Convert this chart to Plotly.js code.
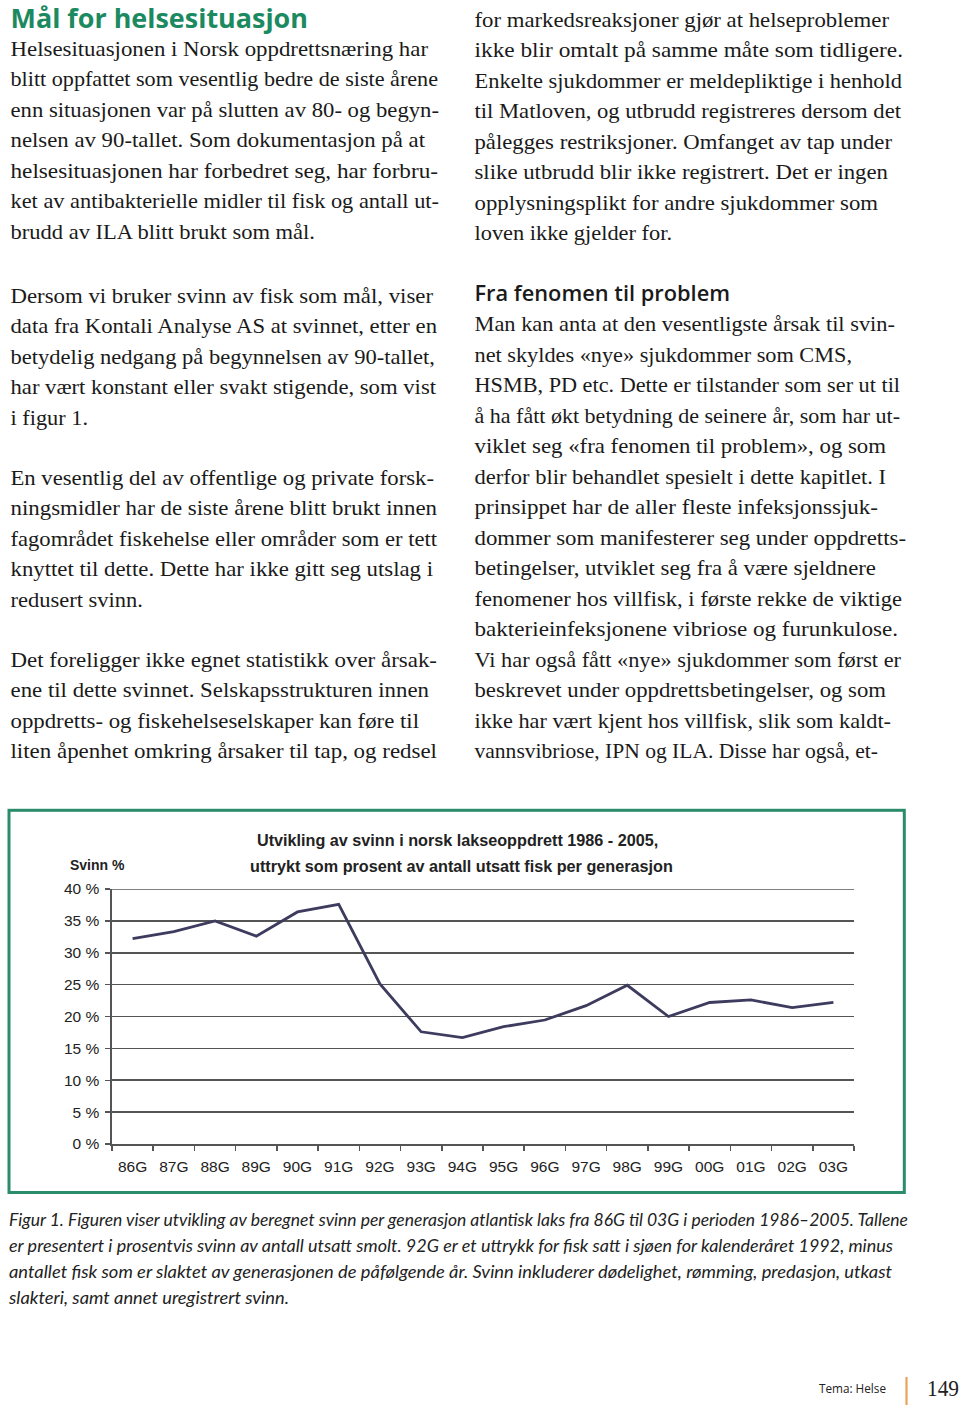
<!DOCTYPE html>
<html>
<head>
<meta charset="utf-8">
<script src="https://cdn.plot.ly/plotly-3.0.1.min.js"></script>
<style>
  html, body { margin:0; padding:0; background:#ffffff; }
  #page { position:relative; width:960px; height:1409px; overflow:hidden; background:#fff; }
  #chart { position:absolute; left:0; top:800px; width:960px; height:410px; }
  #overlay { position:absolute; left:0; top:0; width:960px; height:1409px; pointer-events:none; }
</style>
</head>
<body>
<div id="page">
  <div id="chart"></div>
  <svg id="overlay" width="960" height="1409" xmlns="http://www.w3.org/2000/svg"></svg>
</div>
<script>
// ---------- chart data ----------
const generations = ["86G","87G","88G","89G","90G","91G","92G","93G","94G","95G","96G","97G","98G","99G","00G","01G","02G","03G"];
const svinnPct   = [32.2, 33.3, 35.0, 32.6, 36.4, 37.6, 25.1, 17.6, 16.7, 18.4, 19.45, 21.7, 24.9, 20.0, 22.2, 22.6, 21.4, 22.2];
const yTickVals   = [0, 5, 10, 15, 20, 25, 30, 35, 40];
const yTickLabels = ["0 %", "5 %", "10 %", "15 %", "20 %", "25 %", "30 %", "35 %", "40 %"];
const chartTitle1 = "Utvikling av svinn i norsk lakseoppdrett 1986 - 2005,";
const chartTitle2 = "uttrykt som prosent av antall utsatt fisk per generasjon";
const yAxisLabel  = "Svinn %";

// ---------- page text ----------
const leftLines = [
  "Helsesituasjonen i Norsk oppdrettsnæring har",
  "blitt oppfattet som vesentlig bedre de siste årene",
  "enn situasjonen var på slutten av 80- og begyn-",
  "nelsen av 90-tallet. Som dokumentasjon på at",
  "helsesituasjonen har forbedret seg, har forbru-",
  "ket av antibakterielle midler til fisk og antall ut-",
  "brudd av ILA blitt brukt som mål.",
  "Dersom vi bruker svinn av fisk som mål, viser",
  "data fra Kontali Analyse AS at svinnet, etter en",
  "betydelig nedgang på begynnelsen av 90-tallet,",
  "har vært konstant eller svakt stigende, som vist",
  "i figur 1.",
  "En vesentlig del av offentlige og private forsk-",
  "ningsmidler har de siste årene blitt brukt innen",
  "fagområdet fiskehelse eller områder som er tett",
  "knyttet til dette. Dette har ikke gitt seg utslag i",
  "redusert svinn.",
  "Det foreligger ikke egnet statistikk over årsak-",
  "ene til dette svinnet. Selskapsstrukturen innen",
  "oppdretts- og fiskehelseselskaper kan føre til",
  "liten åpenhet omkring årsaker til tap, og redsel"
];
const leftEnds = [428,438,439,425,438,439,315, 433,437,435,436,88, 434,437,437,433,143, 437,429,419,437];
const leftBase = [55.5,86,116.5,147,177.5,208,238.5, 302.5,333,363.5,394,424.5, 484.5,515,545.5,576,606.5, 666.5,697,727.5,758];

const rightLines = [
  "for markedsreaksjoner gjør at helseproblemer",
  "ikke blir omtalt på samme måte som tidligere.",
  "Enkelte sjukdommer er meldepliktige i henhold",
  "til Matloven, og utbrudd registreres dersom det",
  "pålegges restriksjoner. Omfanget av tap under",
  "slike utbrudd blir ikke registrert. Det er ingen",
  "opplysningsplikt for andre sjukdommer som",
  "loven ikke gjelder for.",
  "Man kan anta at den vesentligste årsak til svin-",
  "net skyldes «nye» sjukdommer som CMS,",
  "HSMB, PD etc. Dette er tilstander som ser ut til",
  "å ha fått økt betydning de seinere år, som har ut-",
  "viklet seg «fra fenomen til problem», og som",
  "derfor blir behandlet spesielt i dette kapitlet. I",
  "prinsippet har de aller fleste infeksjonssjuk-",
  "dommer som manifesterer seg under oppdretts-",
  "betingelser, utviklet seg fra å være sjeldnere",
  "fenomener hos villfisk, i første rekke de viktige",
  "bakterieinfeksjonene vibriose og furunkulose.",
  "Vi har også fått «nye» sjukdommer som først er",
  "beskrevet under oppdrettsbetingelser, og som",
  "ikke har vært kjent hos villfisk, slik som kaldt-",
  "vannsvibriose, IPN og ILA. Disse har også, et-"
];
const rightEnds = [889,903,902,901,892,888,878,672, 895,852,900,900,886,886,878,906,876,902,898,901,886,891,878];
const rightBase = [26.5,57,87.5,118,148.5,179,209.5,240,
  331,361.5,392,422.5,453,483.5,514,544.5,575,605.5,636,666.5,697,727.5,758];

const captionLines = [
  "Figur 1. Figuren viser utvikling av beregnet svinn per generasjon atlantisk laks fra 86G til 03G i perioden 1986–2005. Tallene",
  "er presentert i prosentvis svinn av antall utsatt smolt. 92G er et uttrykk for fisk satt i sjøen for kalenderåret 1992, minus",
  "antallet fisk som er slaktet av generasjonen de påfølgende år. Svinn inkluderer dødelighet, rømming, predasjon, utkast",
  "slakteri, samt annet uregistrert svinn."
];
const captionEnds = [908, 893, 892, 289];
const captionBase = [1226, 1252, 1278, 1304];

const heading1 = "Mål for helsesituasjon";
const heading2 = "Fra fenomen til problem";
const footerTheme = "Tema: Helse";
const pageNumber = "149";

// ---------- overlay text (SVG) ----------
const svg = document.getElementById('overlay');
const NS = "http://www.w3.org/2000/svg";
function addText(str, x, y, x2, style) {
  const t = document.createElementNS(NS, 'text');
  t.setAttribute('x', x);
  t.setAttribute('y', y);
  if (x2 !== null) {
    t.setAttribute('textLength', x2 - x);
    t.setAttribute('lengthAdjust', 'spacingAndGlyphs');
  }
  for (const k in style) t.setAttribute(k, style[k]);
  t.textContent = str;
  svg.appendChild(t);
  return t;
}
const bodyStyle = {'font-family':"'Liberation Serif','Times New Roman',Times,serif", 'font-size':'21', 'fill':'#1a1a1a'};
leftLines.forEach((s,i) => addText(s, 10.5, leftBase[i], leftEnds[i], bodyStyle));
rightLines.forEach((s,i) => addText(s, 474.5, rightBase[i], rightEnds[i], bodyStyle));

addText(heading1, 10.5, 27.5, 308, {'font-family':"'Open Sans','Noto Sans',sans-serif", 'font-size':'27', 'font-weight':'700', 'fill':'#1c8a60'});
addText(heading2, 474.5, 300.7, 730, {'font-family':"'Open Sans','Noto Sans',sans-serif", 'font-size':'22', 'font-weight':'600', 'fill':'#1a1a1a'});

const capStyle = {'font-family':"'Lato','Open Sans',sans-serif", 'font-size':'17', 'font-style':'italic', 'fill':'#222'};
captionLines.forEach((s,i) => addText(s, 9, captionBase[i], captionEnds[i], capStyle));

addText(footerTheme, 819, 1393, 886, {'font-family':"'Open Sans','Noto Sans',sans-serif", 'font-size':'12.5', 'fill':'#222'});
addText(pageNumber, 927, 1396, 959, {'font-family':"'Liberation Serif',serif", 'font-size':'23', 'fill':'#222'});

// decorations
const rect = document.createElementNS(NS, 'rect');
rect.setAttribute('x', 9); rect.setAttribute('y', 810.3);
rect.setAttribute('width', 895.3); rect.setAttribute('height', 382.2);
rect.setAttribute('fill', 'none'); rect.setAttribute('stroke', '#2a8c6c'); rect.setAttribute('stroke-width', 3);
svg.appendChild(rect);
const bar = document.createElementNS(NS, 'line');
bar.setAttribute('x1', 906.5); bar.setAttribute('x2', 906.5);
bar.setAttribute('y1', 1377); bar.setAttribute('y2', 1405);
bar.setAttribute('stroke', '#e8a25a'); bar.setAttribute('stroke-width', 2.2);
svg.appendChild(bar);

// ---------- Plotly chart ----------
const axisFont = {family: "'Liberation Sans', Arial, sans-serif", size: 15.5, color: '#222'};
const trace = {
  type: 'scatter', mode: 'lines',
  x: generations, y: svinnPct,
  line: {color: '#3d3b5e', width: 2.8},
  cliponaxis: false, hoverinfo: 'skip'
};
const plotL = 112, plotR = 854, plotT = 889 - 800, plotB = 1144 - 800;
function px2paperX(px) { return (px - plotL) / (plotR - plotL); }
function py2paperY(py) { return ((plotB + 800) - py) / (plotB - plotT); }
const gridCol = '#555';
const layout = {
  width: 960, height: 410,
  margin: {l: plotL, r: 960 - plotR, t: plotT, b: 410 - plotB, pad: 0},
  paper_bgcolor: 'rgba(0,0,0,0)', plot_bgcolor: 'rgba(0,0,0,0)',
  showlegend: false,
  xaxis: {
    type: 'category', range: [-0.5, generations.length - 0.5],
    showgrid: false, zeroline: false,
    showline: true, linecolor: gridCol, linewidth: 1.6,
    ticks: 'outside', tickson: 'boundaries', ticklen: 5, tickwidth: 1.5, tickcolor: gridCol,
    tickfont: axisFont, ticklabelstandoff: 8, fixedrange: true
  },
  yaxis: {
    range: [0, 40], tickvals: yTickVals, ticktext: yTickLabels,
    showgrid: true, gridcolor: gridCol, gridwidth: 1.6, zeroline: false,
    showline: true, linecolor: gridCol, linewidth: 1.6,
    ticks: 'outside', ticklen: 5, tickwidth: 1.5, tickcolor: gridCol,
    tickfont: axisFont, ticklabelstandoff: 3, fixedrange: true
  },
  shapes: [
    {type: 'line', xref: 'paper', yref: 'y', x0: 0, x1: 1, y0: yTickVals[yTickVals.length - 1], y1: yTickVals[yTickVals.length - 1],
     line: {color: gridCol, width: 1.6}, layer: 'below'}
  ],
  annotations: [
    {text: '<b>' + chartTitle1 + '</b>', xref: 'paper', yref: 'paper', x: px2paperX(457.5), y: py2paperY(840),
     xanchor: 'center', yanchor: 'middle', showarrow: false,
     font: {family: "'Liberation Sans', Arial, sans-serif", size: 16.2, color: '#222'}},
    {text: '<b>' + chartTitle2 + '</b>', xref: 'paper', yref: 'paper', x: px2paperX(461.5), y: py2paperY(866),
     xanchor: 'center', yanchor: 'middle', showarrow: false,
     font: {family: "'Liberation Sans', Arial, sans-serif", size: 16.2, color: '#222'}},
    {text: '<b>' + yAxisLabel + '</b>', xref: 'paper', yref: 'paper', x: px2paperX(97.5), y: py2paperY(865),
     xanchor: 'center', yanchor: 'middle', showarrow: false,
     font: {family: "'Liberation Sans', Arial, sans-serif", size: 14, color: '#222'}}
  ]
};
Plotly.newPlot('chart', [trace], layout, {displayModeBar: false, staticPlot: true});
</script>
</body>
</html>
